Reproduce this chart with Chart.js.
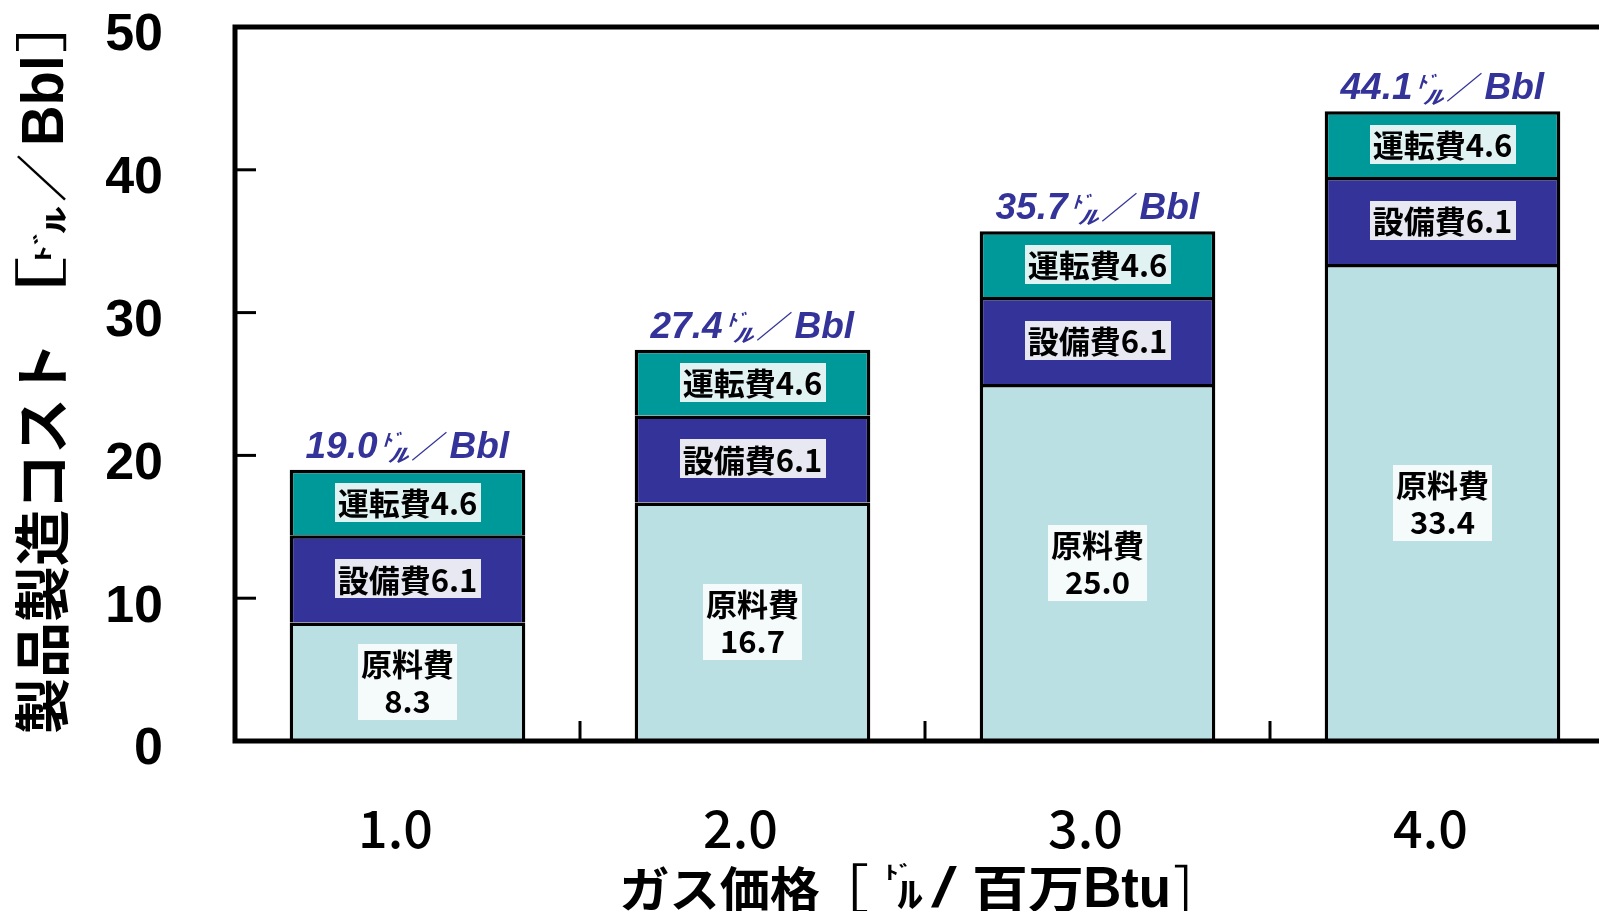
<!DOCTYPE html>
<html><head><meta charset="utf-8">
<script src="https://cdn.jsdelivr.net/npm/chart.js@4.4.1/dist/chart.umd.min.js"></script>
<style>html,body{margin:0;padding:0;overflow:hidden;background:#fff;width:1599px;height:911px}canvas{display:block}</style>
</head><body>
<canvas id="c" width="1640" height="911"></canvas>
<script>
// ---- data ----
const categories = ['1.0', '2.0', '3.0', '4.0'];
const seriesNames = ['原料費', '設備費', '運転費'];
const rawCost = [8.3, 16.7, 25.0, 33.4];
const equipCost = [6.1, 6.1, 6.1, 6.1];
const opCost = [4.6, 4.6, 4.6, 4.6];
const totalCost = [19.0, 27.4, 35.7, 44.1];
const yTickValues = [0, 10, 20, 30, 40, 50];
const totalUnit = ['ﾄﾞ', 'ﾙ', '／', 'Bbl'];
const yTitleParts = ['製品製造コスト', '［', 'ﾄﾞ', 'ﾙ', '／', 'Bbl', '］'];
const xTitleParts = ['ガス価格', '［', 'ﾄﾞ', 'ﾙ', '/', '百万', 'Btu', '］'];

const CJK = '"Noto Sans CJK JP"';
const colors = ['#BBE0E3', '#333399', '#009999'];
const labelBgs = ['#F5FAFB', '#E8E8F3', '#E1F2F2'];

function inkDraw(ctx, text, font, cx, cy, sx, sy, rot) {
  ctx.save();
  ctx.font = font;
  ctx.textAlign = 'left';
  ctx.textBaseline = 'alphabetic';
  const m = ctx.measureText(text);
  const l = -m.actualBoundingBoxLeft, r = m.actualBoundingBoxRight;
  const t = -m.actualBoundingBoxAscent, b = m.actualBoundingBoxDescent;
  ctx.translate(cx, cy);
  if (rot) ctx.rotate(rot);
  ctx.scale(sx, sy);
  ctx.fillText(text, -(l + r) / 2, -(t + b) / 2);
  ctx.restore();
}
function inkSize(ctx, text, font) {
  ctx.save(); ctx.font = font;
  const m = ctx.measureText(text);
  ctx.restore();
  return { w: m.actualBoundingBoxLeft + m.actualBoundingBoxRight, h: m.actualBoundingBoxAscent + m.actualBoundingBoxDescent };
}
function fitDraw(ctx, text, font, x0, x1, y0, y1, rot) {
  const s = inkSize(ctx, text, font);
  if (rot) {
    inkDraw(ctx, text, font, (x0 + x1) / 2, (y0 + y1) / 2, (y1 - y0) / s.w, (x1 - x0) / s.h, rot);
  } else {
    inkDraw(ctx, text, font, (x0 + x1) / 2, (y0 + y1) / 2, (x1 - x0) / s.w, (y1 - y0) / s.h, 0);
  }
}

const framePlugin = {
  id: 'frame',
  afterDatasetsDraw(chart) {
    const ctx = chart.ctx, a = chart.chartArea;
    const xs = chart.scales.x, ys = chart.scales.y;
    ctx.save();
    ctx.strokeStyle = '#000';
    ctx.lineCap = 'butt';
    ctx.lineWidth = 3;
    ys.ticks.forEach(t => {
      const y = ys.getPixelForValue(t.value);
      ctx.beginPath(); ctx.moveTo(a.left, y); ctx.lineTo(a.left + 21, y); ctx.stroke();
    });
    for (let i = 0; i < categories.length - 1; i++) {
      const x = (xs.getPixelForValue(i) + xs.getPixelForValue(i + 1)) / 2;
      ctx.beginPath(); ctx.moveTo(x, a.bottom); ctx.lineTo(x, a.bottom - 20); ctx.stroke();
    }
    ctx.lineWidth = 5;
    ctx.strokeRect(a.left, a.top, a.right - a.left, a.bottom - a.top);
    ctx.restore();

    // segment labels
    chart.data.datasets.forEach((ds, di) => {
      const meta = chart.getDatasetMeta(di);
      meta.data.forEach((el, i) => {
        const cy = (el.y + el.base) / 2, cx = el.x;
        const v = ds.data[i].toFixed(1);
        const lines = di === 0 ? [ds.label, v] : [ds.label + v];
        ctx.save();
        ctx.font = 'bold 31px ' + CJK;
        const w = Math.max(...lines.map(t => ctx.measureText(t).width));
        const lh = 37, h = lh * lines.length + 2;
        ctx.fillStyle = labelBgs[di];
        ctx.fillRect(Math.round(cx - w / 2 - 3), Math.round(cy - h / 2), Math.round(w + 6), h);
        ctx.fillStyle = '#000'; ctx.textAlign = 'center'; ctx.textBaseline = 'middle';
        lines.forEach((t, k) => ctx.fillText(t, cx, cy - h / 2 + 1 + lh * (k + 0.5) + 1));
        ctx.restore();
      });
    });

    // totals above bars
    const top = chart.getDatasetMeta(2);
    top.data.forEach((el, i) => {
      const base = el.y - 12;
      const x0 = el.x - 102;
      ctx.save();
      ctx.fillStyle = '#333399';
      ctx.textBaseline = 'alphabetic'; ctx.textAlign = 'left';
      ctx.font = 'italic bold 37px "Liberation Sans"';
      ctx.fillText(totalCost[i].toFixed(1), x0, base);
      ctx.fillText(totalUnit[3], x0 + 144, base);
      fitDraw(ctx, totalUnit[0], 'italic bold 24px ' + CJK, x0 + 78, x0 + 97, base - 26, base - 10, 0);
      fitDraw(ctx, totalUnit[1], 'italic bold 24px ' + CJK, x0 + 82, x0 + 105, base - 10, base + 6, 0);
      fitDraw(ctx, totalUnit[2], 'italic bold 40px ' + CJK, x0 + 106, x0 + 142, base - 27, base + 3, 0);
      ctx.restore();
    });
  },
  afterDraw(chart) {
    const ctx = chart.ctx;
    ctx.save();
    ctx.fillStyle = '#000';
    const R = -Math.PI / 2;
    const F = 'bold 56px ' + CJK;
    // y title (rotated)
    fitDraw(ctx, yTitleParts[0], F, 15, 69, 349, 733, R);
    fitDraw(ctx, yTitleParts[1], '56px ' + CJK, 16, 67, 257, 287, R);
    fitDraw(ctx, yTitleParts[2], 'bold 24px ' + CJK, 33, 51, 234, 259, R);
    fitDraw(ctx, yTitleParts[3], 'bold 24px ' + CJK, 46, 66, 206, 234, R);
    fitDraw(ctx, yTitleParts[4], F, 17, 66, 155, 201, R);
    fitDraw(ctx, yTitleParts[5], 'bold 56px "Liberation Sans"', 21, 64, 59, 143, R);
    fitDraw(ctx, yTitleParts[6], '56px ' + CJK, 16, 67, 33, 52, R);
    // x title
    const G = 'bold 56px ' + CJK;
    fitDraw(ctx, xTitleParts[0], G, 622, 820, 866, 912, 0);
    fitDraw(ctx, xTitleParts[1], '56px ' + CJK, 852, 868, 864, 914, 0);
    fitDraw(ctx, xTitleParts[2], 'bold 24px ' + CJK, 888, 907, 863, 880, 0);
    fitDraw(ctx, xTitleParts[3], 'bold 24px ' + CJK, 897, 923, 880, 908, 0);
    fitDraw(ctx, xTitleParts[4], G, 930, 958, 866, 908, 0);
    fitDraw(ctx, xTitleParts[5], G, 975, 1081, 866, 912, 0);
    fitDraw(ctx, xTitleParts[6], 'bold 56px "Liberation Sans"', 1086, 1168, 868, 908, 0);
    fitDraw(ctx, xTitleParts[7], '56px ' + CJK, 1174, 1188, 864, 914, 0);
    ctx.restore();
  }
};

new Chart(document.getElementById('c'), {
  type: 'bar',
  data: {
    labels: categories,
    datasets: [
      { label: seriesNames[0], data: rawCost, backgroundColor: colors[0] },
      { label: seriesNames[1], data: equipCost, backgroundColor: colors[1] },
      { label: seriesNames[2], data: opCost, backgroundColor: colors[2] }
    ]
  },
  options: {
    responsive: false,
    animation: false,
    devicePixelRatio: 1,
    layout: { padding: { top: 27, right: 25, bottom: 0, left: 0 } },
    datasets: { bar: { borderColor: '#000', borderWidth: 3.5, barPercentage: 0.683, categoryPercentage: 1 } },
    plugins: { legend: { display: false }, tooltip: { enabled: false } },
    scales: {
      x: {
        stacked: true,
        grid: { display: false },
        border: { display: false },
        ticks: { color: '#000', font: { family: 'Noto Sans CJK JP', size: 52, weight: '500' }, padding: 48, labelOffset: -12, maxRotation: 0 },
        afterFit(s) { s.height = 170; s.paddingLeft = 0; s.paddingRight = 0; }
      },
      y: {
        stacked: true, min: 0, max: 50,
        afterBuildTicks(s) { s.ticks = yTickValues.map(v => ({ value: v })); },
        grid: { display: false, drawTicks: false },
        border: { display: false },
        ticks: { color: '#000', font: { family: 'Liberation Sans', size: 52, weight: 'bold' }, padding: 72, labelOffset: 9 },
        afterFit(s) { s.width = 235; s.paddingTop = 0; s.paddingBottom = 0; }
      }
    }
  },
  plugins: [framePlugin]
});
</script>
</body></html>
